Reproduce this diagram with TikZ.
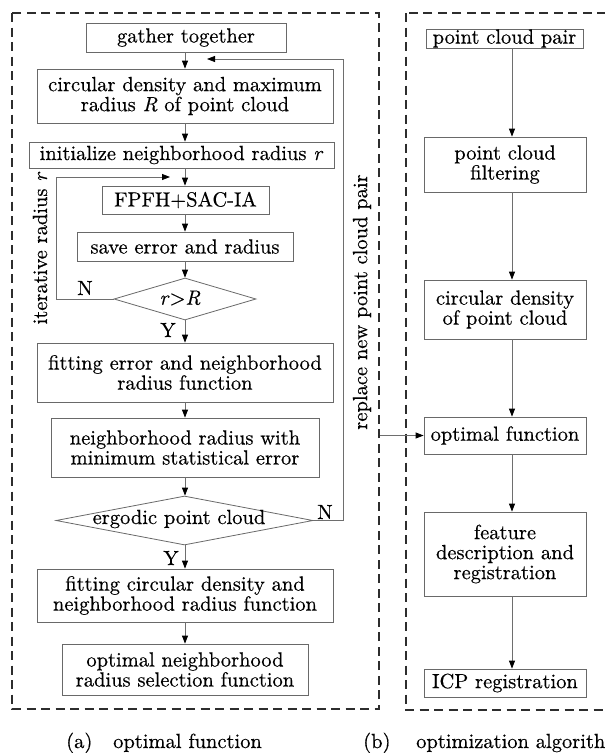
\documentclass[tikz,border=0pt]{standalone}
\usepackage{fontspec}
\setmainfont{lmroman10}[Extension=.otf, UprightFont=*-regular, ItalicFont=*-italic, BoldFont=*-bold, BoldItalicFont=*-bolditalic, FakeBold=0.4]
\usetikzlibrary{arrows.meta,shapes.geometric}
\definecolor{boxgray}{RGB}{105,105,105}
\definecolor{linegray}{RGB}{110,110,110}
\definecolor{dashgray}{RGB}{45,45,45}
\newcommand{\bigtxt}{\fontsize{20.5}{20}\selectfont}
\begin{document}
\begin{tikzpicture}[x=1pt,y=-1pt,
  box/.style={draw=boxgray, line width=0.8pt, inner sep=0pt, align=center, font=\bigtxt, text=black},
  dia/.style={diamond, draw=boxgray, line width=0.8pt, inner sep=0pt},
  lbl/.style={inner sep=0pt, font=\bigtxt, text=black},
  arr/.style={draw=linegray, line width=0.8pt, -{Triangle[length=8pt,width=6pt,color=black]}},
  dashbox/.style={draw=dashgray, line width=1.3pt, dash pattern=on 9pt off 5.5pt}]
\useasboundingbox (0,0) rectangle (605,753);
\clip (0,0) rectangle (605,753);
\fill[white] (0,0) rectangle (605,753);

% panels
\draw[dashbox] (12,13) rectangle (379,709);
\draw[dashbox] (406,13) rectangle (650,710);

% column guides
\coordinate (colL) at (185,0);
\coordinate (colR) at (512,0);

% left flow
\node[box, minimum width=200pt, minimum height=29pt] (gather) at (186,37.5) {gather together};
\node[box, minimum width=296pt, minimum height=54pt] (circ) at (185,96) {circular density and maximum\\radius \textit{R} of point cloud};
\node[box, minimum width=305pt, minimum height=26pt] (init) at (181.5,155) {initialize neighborhood radius \textit{r}};
\node[box, minimum width=167pt, minimum height=28pt] (fpfh) at (185.5,200) {FPFH+SAC-IA};
\node[box, minimum width=216pt, minimum height=29pt] (save) at (185,246.5) {save error and radius};
\node[dia, minimum width=142pt, minimum height=42pt] (rR) at (185,299) {};
\node[lbl] (rRtxt) at (180,298) {\textit{r}>\textit{R}};
\node[box, minimum width=296pt, minimum height=59pt] (fiterr) at (185,372.5) {fitting error and neighborhood\\radius function};
\node[box, minimum width=268pt, minimum height=59pt] (nrmin) at (185,447.5) {neighborhood radius with\\minimum statistical error};
\node[dia, minimum width=257pt, minimum height=49pt] (erg) at (184.5,520.5) {};
\node[lbl] (ergtxt) at (179,519) {ergodic point cloud};
\node[box, minimum width=296pt, minimum height=53pt] (fitcd) at (185,595.5) {fitting circular density and\\neighborhood radius function};
\node[box, minimum width=246pt, minimum height=51pt] (optn) at (185,669.5) {optimal neighborhood\\radius selection function};

% left arrows
\draw[arr] (gather.south -| colL) -- (circ.north -| colL);
\draw[arr] (circ.south -| colL) -- (init.north -| colL);
\draw[arr] (init.south -| colL) -- (fpfh.north -| colL);
\draw[arr] (fpfh.south -| colL) -- (save.north -| colL);
\draw[arr] (save.south -| colL) -- (rR.north);
\draw[arr] (rR.south) -- (fiterr.north -| colL);
\draw[arr] (fiterr.south -| colL) -- (nrmin.north -| colL);
\draw[arr] (nrmin.south -| colL) -- (erg.north -| colL);
\draw[arr] (erg.south -| colL) -- (fitcd.north -| colL);
\draw[arr] (fitcd.south -| colL) -- (optn.north -| colL);

% inner loop
\coordinate (loopA) at (56,177);
\coordinate (loopAend) at (170,177);
\draw[arr] (rR.west) -| (loopA) -- (loopAend);
% outer loop
\coordinate (loopB) at (343,59);
\coordinate (loopBend) at (207,59);
\draw[arr] (erg.east) -| (loopB) -- (loopBend);

% labels
\node[lbl] (n1) at (85,288) {N};
\node[lbl] (y1) at (168,330) {Y};
\node[lbl] (n2) at (325,512) {N};
\node[lbl] (y2) at (171,558) {Y};
\node[lbl, rotate=90] (iter) at (40,248) {iterative radius \textit{r}};
\node[lbl, rotate=90] (repl) at (362,302) {replace new point cloud pair};

% right flow
\node[box, minimum width=157pt, minimum height=19pt] (pcp) at (504.5,38.5) {point cloud pair};
\node[box, minimum width=162pt, minimum height=55pt] (filt) at (505,164.5) {point cloud\\filtering};
\node[box, minimum width=162pt, minimum height=59pt] (cdpc) at (505,309.5) {circular density\\of point cloud};
\node[box, minimum width=162pt, minimum height=37pt] (optf) at (505,435.5) {optimal function};
\node[box, minimum width=162pt, minimum height=84pt] (feat) at (505,554) {feature\\description and\\registration};
\node[box, minimum width=162pt, minimum height=28pt] (icp) at (505,683) {ICP registration};

\draw[arr] (pcp.south -| colR) -- (filt.north -| colR);
\draw[arr] (filt.south -| colR) -- (cdpc.north -| colR);
\draw[arr] (cdpc.south -| colR) -- (optf.north -| colR);
\draw[arr] (optf.south -| colR) -- (feat.north -| colR);
\draw[arr] (feat.south -| colR) -- (icp.north -| colR);

% cross arrow
\coordinate (repstart) at (380,435.5);
\draw[arr] (repstart) -- (optf.west);

% captions
\node[lbl, anchor=base west] (capa) at (66,748) {(a)};
\node[lbl, anchor=base west] (capatxt) at (113,748) {optimal function};
\node[lbl, anchor=base west] (capb) at (363,748) {(b)};
\node[lbl, anchor=base west] (capbtxt) at (416,748) {optimization algorithm};
\end{tikzpicture}
\end{document}
